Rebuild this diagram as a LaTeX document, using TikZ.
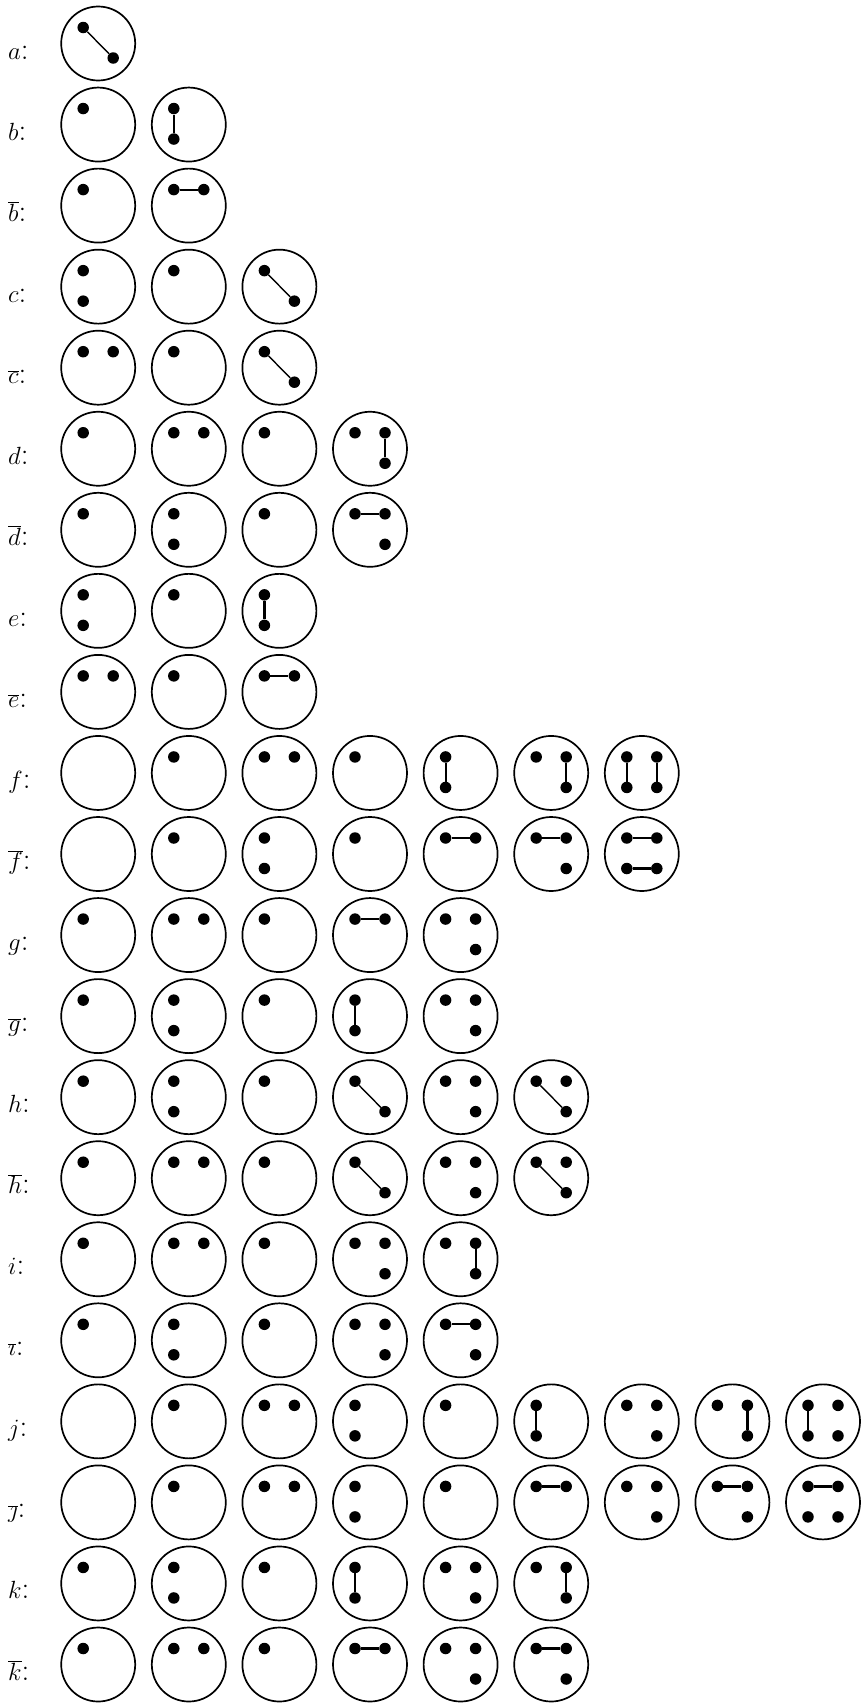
\documentclass[tikz,border=0pt]{standalone}
\begin{document}
\begin{tikzpicture}[x=1pt,y=-1pt,
  ring/.style={circle,draw,line width=1.7pt,minimum size=74pt,inner sep=0pt},
  pt/.style={circle,fill,inner sep=0pt,minimum size=11.5pt},
  link/.style={line width=2.2pt},
  dlink/.style={line width=1.4pt},
  lab/.style={anchor=base west,inner sep=0pt,font=\fontsize{31}{37}\selectfont}]
\fill[white] (0,0) rectangle (863,1708);
\useasboundingbox (0,0) rectangle (863,1708);
\newcommand\cell[3]{%
  \def\cid{r#1c#2}%
  \pgfmathsetmacro\cx{98.2+90.6*(#2-1)}%
  \pgfmathsetmacro\cy{43.5+81.05*(#1)}%
  \node[ring] (\cid) at (\cx,\cy) {};
  #3}
\newcommand\dTL{\node[pt] (\cid tl) at (\cx-15,\cy-16) {};}
\newcommand\dTR{\node[pt] (\cid tr) at (\cx+15,\cy-16) {};}
\newcommand\dBL{\node[pt] (\cid bl) at (\cx-15,\cy+14.5) {};}
\newcommand\dBR{\node[pt] (\cid br) at (\cx+15,\cy+14.5) {};}
\newcommand\lVl{\draw[link] (\cid tl) -- (\cid bl);}
\newcommand\lVr{\draw[link] (\cid tr) -- (\cid br);}
\newcommand\lHt{\draw[link] (\cid tl) -- (\cid tr);}
\newcommand\lHb{\draw[link] (\cid bl) -- (\cid br);}
\newcommand\lDg{\draw[dlink] (\cid tl) -- (\cid br);}
\newcommand\rowlab[2]{\node[lab] (lab#1) at (8,{43.5+81.05*(#1)+15.5}) {#2};}
% labels
\rowlab{0}{$a$:}
\rowlab{1}{$b$:}
\rowlab{2}{$\overline{b}$:}
\rowlab{3}{$c$:}
\rowlab{4}{$\overline{c}$:}
\rowlab{5}{$d$:}
\rowlab{6}{$\overline{d}$:}
\rowlab{7}{$e$:}
\rowlab{8}{$\overline{e}$:}
\rowlab{9}{$f$:}
\rowlab{10}{$\overline{f}$:}
\rowlab{11}{$g$:}
\rowlab{12}{$\overline{g}$:}
\rowlab{13}{$h$:}
\rowlab{14}{$\overline{h}$:}
\rowlab{15}{$i$:}
\rowlab{16}{$\overline{\imath}$:}
\rowlab{17}{$j$:}
\rowlab{18}{$\overline{\jmath}$:}
\rowlab{19}{$k$:}
\rowlab{20}{$\overline{k}$:}
% a
\cell{0}{1}{\dTL\dBR\lDg}
% b
\cell{1}{1}{\dTL}
\cell{1}{2}{\dTL\dBL\lVl}
% bbar
\cell{2}{1}{\dTL}
\cell{2}{2}{\dTL\dTR\lHt}
% c
\cell{3}{1}{\dTL\dBL}
\cell{3}{2}{\dTL}
\cell{3}{3}{\dTL\dBR\lDg}
% cbar
\cell{4}{1}{\dTL\dTR}
\cell{4}{2}{\dTL}
\cell{4}{3}{\dTL\dBR\lDg}
% d
\cell{5}{1}{\dTL}
\cell{5}{2}{\dTL\dTR}
\cell{5}{3}{\dTL}
\cell{5}{4}{\dTL\dTR\dBR\lVr}
% dbar
\cell{6}{1}{\dTL}
\cell{6}{2}{\dTL\dBL}
\cell{6}{3}{\dTL}
\cell{6}{4}{\dTL\dTR\dBR\lHt}
% e
\cell{7}{1}{\dTL\dBL}
\cell{7}{2}{\dTL}
\cell{7}{3}{\dTL\dBL\lVl}
% ebar
\cell{8}{1}{\dTL\dTR}
\cell{8}{2}{\dTL}
\cell{8}{3}{\dTL\dTR\lHt}
% f
\cell{9}{1}{}
\cell{9}{2}{\dTL}
\cell{9}{3}{\dTL\dTR}
\cell{9}{4}{\dTL}
\cell{9}{5}{\dTL\dBL\lVl}
\cell{9}{6}{\dTL\dTR\dBR\lVr}
\cell{9}{7}{\dTL\dTR\dBL\dBR\lVl\lVr}
% fbar
\cell{10}{1}{}
\cell{10}{2}{\dTL}
\cell{10}{3}{\dTL\dBL}
\cell{10}{4}{\dTL}
\cell{10}{5}{\dTL\dTR\lHt}
\cell{10}{6}{\dTL\dTR\dBR\lHt}
\cell{10}{7}{\dTL\dTR\dBL\dBR\lHt\lHb}
% g
\cell{11}{1}{\dTL}
\cell{11}{2}{\dTL\dTR}
\cell{11}{3}{\dTL}
\cell{11}{4}{\dTL\dTR\lHt}
\cell{11}{5}{\dTL\dTR\dBR}
% gbar
\cell{12}{1}{\dTL}
\cell{12}{2}{\dTL\dBL}
\cell{12}{3}{\dTL}
\cell{12}{4}{\dTL\dBL\lVl}
\cell{12}{5}{\dTL\dTR\dBR}
% h
\cell{13}{1}{\dTL}
\cell{13}{2}{\dTL\dBL}
\cell{13}{3}{\dTL}
\cell{13}{4}{\dTL\dBR\lDg}
\cell{13}{5}{\dTL\dTR\dBR}
\cell{13}{6}{\dTL\dTR\dBR\lDg}
% hbar
\cell{14}{1}{\dTL}
\cell{14}{2}{\dTL\dTR}
\cell{14}{3}{\dTL}
\cell{14}{4}{\dTL\dBR\lDg}
\cell{14}{5}{\dTL\dTR\dBR}
\cell{14}{6}{\dTL\dTR\dBR\lDg}
% i
\cell{15}{1}{\dTL}
\cell{15}{2}{\dTL\dTR}
\cell{15}{3}{\dTL}
\cell{15}{4}{\dTL\dTR\dBR}
\cell{15}{5}{\dTL\dTR\dBR\lVr}
% ibar
\cell{16}{1}{\dTL}
\cell{16}{2}{\dTL\dBL}
\cell{16}{3}{\dTL}
\cell{16}{4}{\dTL\dTR\dBR}
\cell{16}{5}{\dTL\dTR\dBR\lHt}
% j
\cell{17}{1}{}
\cell{17}{2}{\dTL}
\cell{17}{3}{\dTL\dTR}
\cell{17}{4}{\dTL\dBL}
\cell{17}{5}{\dTL}
\cell{17}{6}{\dTL\dBL\lVl}
\cell{17}{7}{\dTL\dTR\dBR}
\cell{17}{8}{\dTL\dTR\dBR\lVr}
\cell{17}{9}{\dTL\dTR\dBL\dBR\lVl}
% jbar
\cell{18}{1}{}
\cell{18}{2}{\dTL}
\cell{18}{3}{\dTL\dTR}
\cell{18}{4}{\dTL\dBL}
\cell{18}{5}{\dTL}
\cell{18}{6}{\dTL\dTR\lHt}
\cell{18}{7}{\dTL\dTR\dBR}
\cell{18}{8}{\dTL\dTR\dBR\lHt}
\cell{18}{9}{\dTL\dTR\dBL\dBR\lHt}
% k
\cell{19}{1}{\dTL}
\cell{19}{2}{\dTL\dBL}
\cell{19}{3}{\dTL}
\cell{19}{4}{\dTL\dBL\lVl}
\cell{19}{5}{\dTL\dTR\dBR}
\cell{19}{6}{\dTL\dTR\dBR\lVr}
% kbar
\cell{20}{1}{\dTL}
\cell{20}{2}{\dTL\dTR}
\cell{20}{3}{\dTL}
\cell{20}{4}{\dTL\dTR\lHt}
\cell{20}{5}{\dTL\dTR\dBR}
\cell{20}{6}{\dTL\dTR\dBR\lHt}
\end{tikzpicture}
\end{document}
